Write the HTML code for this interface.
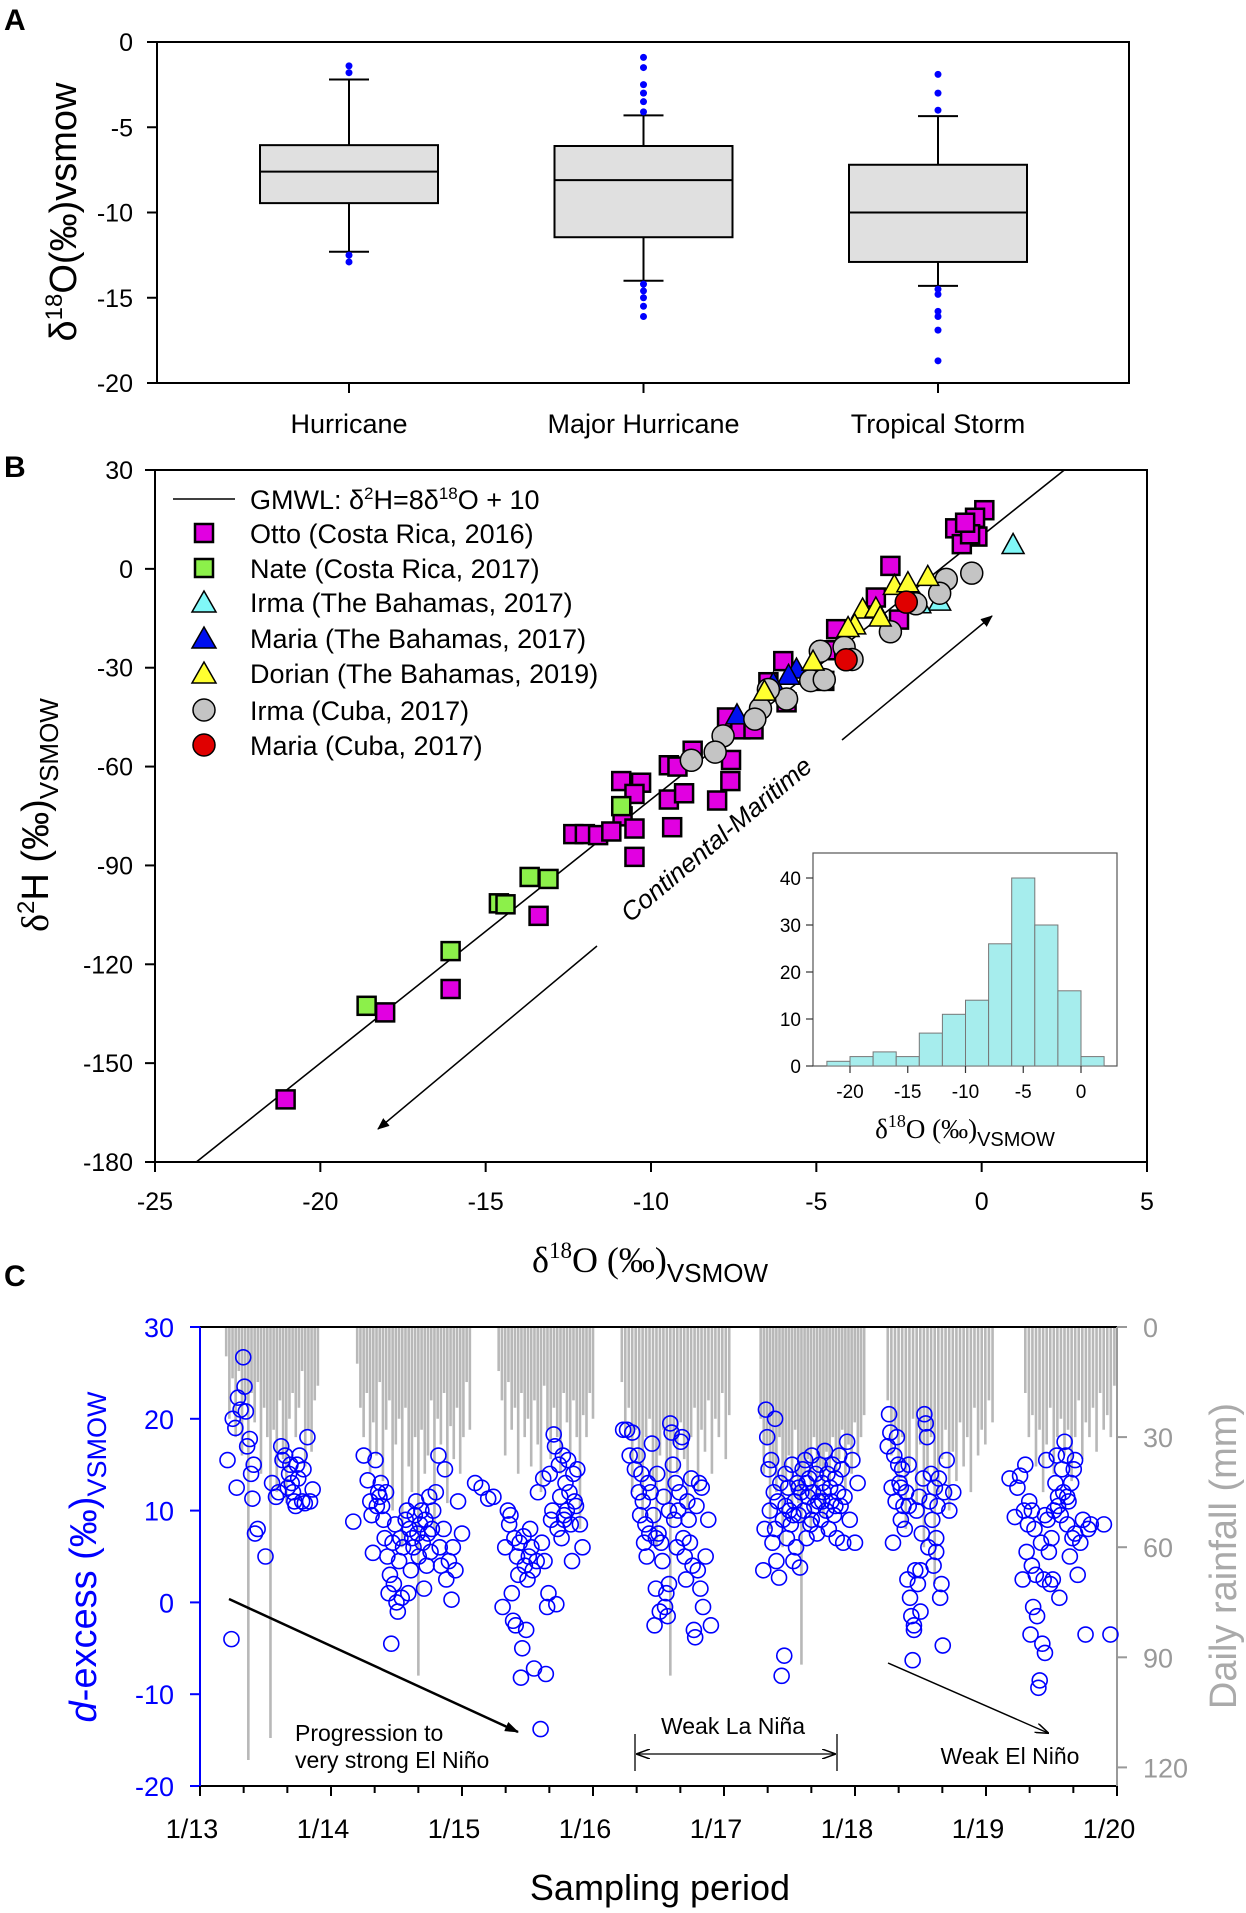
<!DOCTYPE html>
<html><head><meta charset="utf-8"><style>
html,body{margin:0;padding:0;background:#fff}
svg{display:block;font-family:"Liberation Sans",Arial,sans-serif}
</style></head><body>
<svg id="fig" width="1246" height="1913" viewBox="0 0 1246 1913" xmlns="http://www.w3.org/2000/svg">
<text x="4" y="30" font-size="30" font-weight="bold">A</text>
<text x="4" y="477" font-size="30" font-weight="bold">B</text>
<text x="4" y="1286" font-size="30" font-weight="bold">C</text>
<g id="pa"></g>
<g id="pb"></g>
<g id="pc"></g>
</svg>
<script>
// ---------- Panel A data ----------
const aCats = ["Hurricane","Major Hurricane","Tropical Storm"];
const aQ1 = [-9.45,-11.45,-12.9];
const aMed = [-7.6,-8.1,-10.0];
const aQ3 = [-6.05,-6.1,-7.2];
const aWlo = [-12.3,-14.0,-14.3];
const aWhi = [-2.2,-4.3,-4.35];
const aOutH = [-1.4,-1.8,-12.5,-12.9];
const aOutM = [-0.9,-1.5,-2.5,-3.0,-3.5,-4.1,-14.2,-14.6,-15.0,-15.5,-16.1];
const aOutT = [-1.9,-3.0,-4.0,-14.5,-14.8,-15.8,-16.1,-16.9,-18.7];
const aYTicks = [0,-5,-10,-15,-20];

// ---------- Panel B data ----------
const bOttoX = [0.08,-0.8,-0.2,-0.13,-0.6,-2.76,-3.2,-2.5,-4.4,-4.7,-6.0,-6.45,-4.76,-5.9,-7.7,-7.3,-6.9,-8.74,-9.46,-7.58,-9.2,-10.9,-10.3,-10.5,-7.6,-9.46,-9.0,-8.0,-10.86,-10.5,-9.36,-12.35,-12.0,-11.6,-11.2,-10.5,-13.4,-16.06,-18.04,-21.05,-0.35,-0.5];
const bOttoY = [17.8,12.3,15.5,9.8,7.5,0.9,-8.7,-15.4,-18.3,-24.7,-28,-34.4,-34,-40.5,-45.1,-48.7,-48.7,-55.2,-59.6,-58,-60,-64.4,-64.9,-68.3,-64.4,-70,-68.1,-70.3,-75.1,-78.8,-78.4,-80.5,-80.5,-80.8,-79.7,-87.4,-105.3,-127.5,-134.6,-161,10.5,14];
const bNateX = [-10.9,-13.67,-13.1,-14.6,-14.4,-16.06,-18.6];
const bNateY = [-72,-93.5,-94.1,-101.5,-101.8,-116,-132.6];
const bIrmaBX = [0.95,-1.27,-1.87];
const bIrmaBY = [7.4,-9.8,-10.6];
const bMariaBX = [-7.4,-5.6,-5.84,-6.3];
const bMariaBY = [-44.3,-30.4,-32.3,-34.7];
const bDorianX = [-2.64,-2.23,-1.63,-3.6,-3.2,-3.84,-4.04,-5.1,-3.07,-6.57];
const bDorianY = [-5,-4.2,-2.3,-12.2,-11.9,-17,-17.8,-28,-14.6,-37.1];
const bIrmaCX = [-0.3,-1.07,-1.27,-1.99,-2.76,-4.16,-4.88,-3.92,-5.17,-4.76,-5.9,-6.45,-6.69,-6.86,-7.82,-8.06,-8.78];
const bIrmaCY = [-1.3,-3.2,-7.4,-10.6,-19.1,-23.8,-25,-27.5,-33.9,-33.6,-39.5,-36.6,-42.4,-45.6,-50.7,-55.6,-58.1];
const bMariaCX = [-2.28,-4.1];
const bMariaCY = [-10.1,-27.6];
const bXTicks = [-25,-20,-15,-10,-5,0,5];
const bYTicks = [30,0,-30,-60,-90,-120,-150,-180];
const hStarts = [-22,-20,-18,-16,-14,-12,-10,-8,-6,-4,-2,0];
const hCounts = [1,2,3,2,7,11,14,26,40,30,16,2];
const hXTicks = [-20,-15,-10,-5,0];
const hYTicks = [0,10,20,30,40];

// ---------- Panel C data (t = years since Jan 2013) ----------
const cT = [0.21,0.24,0.25,0.27,0.28,0.29,0.31,0.33,0.34,0.35,0.36,0.38,0.39,0.4,0.41,0.42,0.44,0.5,0.55,0.58,0.6,0.62,0.63,0.65,0.67,0.68,0.7,0.71,0.72,0.74,0.75,0.76,0.78,0.79,0.8,0.82,0.84,0.86,0.73,0.69,
1.17,1.25,1.28,1.3,1.31,1.32,1.34,1.36,1.37,1.38,1.39,1.4,1.41,1.42,1.43,1.44,1.45,1.46,1.47,1.48,1.5,1.51,1.52,1.54,1.55,1.57,1.58,1.59,1.6,1.62,1.63,1.64,1.65,1.66,1.67,1.68,1.69,1.7,1.71,1.72,1.73,1.74,1.75,1.76,1.77,1.78,1.8,1.82,1.83,1.84,1.86,1.87,1.88,1.9,1.92,1.93,1.95,1.97,2.0,1.61,1.53,1.49,1.35,
2.1,2.15,2.2,2.24,
2.31,2.33,2.35,2.36,2.37,2.38,2.39,2.4,2.41,2.42,2.43,2.44,2.45,2.46,2.47,2.48,2.49,2.5,2.51,2.52,2.53,2.54,2.55,2.57,2.58,2.6,2.61,2.62,2.63,2.64,2.65,2.66,2.67,2.68,2.69,2.7,2.71,2.72,2.73,2.74,2.75,2.76,2.77,2.78,2.79,2.8,2.81,2.82,2.83,2.84,2.85,2.86,2.88,2.9,2.92,2.87,2.78,
3.23,3.26,3.28,3.3,3.32,3.34,3.35,3.36,3.37,3.38,3.39,3.4,3.41,3.42,3.43,3.44,3.45,3.46,3.47,3.48,3.49,3.5,3.51,3.52,3.53,3.54,3.55,3.56,3.57,3.58,3.59,3.6,3.61,3.62,3.63,3.64,3.65,3.66,3.67,3.68,3.69,3.7,3.71,3.72,3.73,3.74,3.75,3.76,3.77,3.78,3.79,3.8,3.81,3.82,3.83,3.84,3.86,3.88,3.9,3.58,3.48,
4.3,4.31,4.32,4.33,4.34,4.35,4.36,4.37,4.38,4.39,4.4,4.41,4.42,4.43,4.44,4.45,4.46,4.47,4.48,4.49,4.5,4.51,4.52,4.53,4.54,4.55,4.56,4.57,4.58,4.59,4.6,4.61,4.62,4.63,4.64,4.65,4.66,4.67,4.68,4.69,4.7,4.71,4.72,4.73,4.74,4.75,4.76,4.77,4.78,4.79,4.8,4.81,4.82,4.83,4.84,4.85,4.86,4.87,4.88,4.89,4.9,4.91,4.92,4.94,4.96,4.98,5.0,5.02,4.39,4.47,4.57,4.67,4.75,4.85,4.63,4.53,
5.25,5.26,5.27,5.28,5.29,5.3,5.31,5.32,5.33,5.34,5.35,5.36,5.37,5.38,5.39,5.4,5.41,5.42,5.43,5.44,5.45,5.46,5.47,5.48,5.49,5.5,5.51,5.52,5.53,5.54,5.55,5.56,5.57,5.58,5.59,5.6,5.61,5.62,5.63,5.64,5.65,5.66,5.67,5.68,5.7,5.72,5.75,5.45,5.5,5.62,5.35,5.41,
6.18,6.22,6.24,6.26,6.28,6.29,6.3,6.31,6.32,6.33,6.34,6.35,6.36,6.37,6.38,6.39,6.4,6.41,6.42,6.43,6.44,6.45,6.46,6.47,6.48,6.49,6.5,6.51,6.52,6.53,6.54,6.55,6.56,6.57,6.58,6.59,6.6,6.61,6.62,6.63,6.64,6.65,6.66,6.67,6.68,6.7,6.72,6.74,6.76,6.78,6.8,6.35,6.45,6.55,6.62,6.68,6.9,6.95];
const cD = [15.5,-4,20,19,12.5,22.3,21,26.7,23.5,20.8,17,17.8,14,11.3,15,7.5,8,5,13,11.5,12,17,15.5,16,12.5,14,13,12,11,15,13.5,16,11,14.5,10.8,18,11,12.3,10.5,15,
8.8,16,13.3,11,9.5,5.4,15.5,12,11.5,13,10.5,9,7,12,5,1,3,-4.5,6.5,2,0,-1,4.5,0.5,6,9,10,1,8,7,6,9.5,11,7.5,5,8.5,10,6.5,1.5,9,4,7.5,11.5,5.5,8,10,12,16,6,4,8,14.5,2.5,4.5,0.3,6,3.5,11,7.5,3.5,7,8.5,10.5,
13,12.5,11.3,11.5,
-0.5,6,10,8.5,9.5,1,-2,7,-2.5,5,3,6.5,-8.2,-5,7.2,4,-3,2.5,5,8,6,3.5,-7.2,4.5,12,-13.8,6.5,13.5,4.5,-7.8,-0.5,1,14,9,10,18.3,17,-0.2,8,15,11.5,7,16,9,13,10,15.5,12,8.5,4.5,14,11,14.5,8.5,6,10.5,9.5,
18.8,18.8,16,18.5,14.5,16,12,9.5,14,11,6.5,8.5,5,13,7.5,12,17.3,9.5,-2.5,1.5,14,7.5,-1,6.5,4.5,11.5,-0.5,1,-1.5,2,19.5,18.5,15,9,13,6,10,12,17.5,18,7,5,2.5,11,9,6.5,13.5,4,-3,-3.8,10.5,3.5,13,1.5,12.5,-0.5,5,9,-2.5,10,7,
3.5,8,21,18,14.5,10,15.5,6.5,12,20,4.5,11,2.7,13,-8,9,-5.8,14,7,12.5,10,8.5,15,4.5,11,6,13,9.5,3.8,12,14.5,10,15.5,7,11.5,13.5,8.5,16,12,10.5,14,7.5,11,15,9,13,12,16.5,10,14,8,12.5,11,15,9.5,13.5,7,12,16,10.5,14.5,6.5,11.5,17.5,9,15.5,6.5,13,8,10.5,12.5,9,11,10.5,13,9.5,
17,20.5,18.5,12.5,6.5,16,11,18,15,13,9,14.5,10.5,8,12,2.5,15,0.5,-1.5,-6.3,-3,3.5,10,2,11.5,3.5,7.5,13.5,20.5,19.5,18,6,11,14,9,4,12.5,7,10.5,13.5,0.5,2,-4.7,12,15.5,10,12,-2.5,-1,5.5,12.5,10.5,
13.5,9.3,12.5,13.8,2.5,10,15,5.5,8.5,11,-3.5,4,-0.5,8,3,-1.5,-9.3,-8.5,6.5,-4.5,2.5,-5.5,15.5,9,5.5,2,7,2.5,10,13,16,11.5,0.5,9.5,14.5,12,17.5,16,8.5,11,5,13,7,14.5,15.5,3,6.5,9,-3.5,8,8.5,10,9.5,10.5,11.5,7.5,8.5,-3.5];
// rainfall periods: start t, end t, daily values (mm)
const rStart = [0.2,1.2,2.28,3.22,4.28,5.25,6.3];
const rEnd = [0.9,2.06,3.0,4.04,5.07,6.05,6.98];
const rain0 = [8,25,14,30,12,35,20,118,18,26,15,40,22,30,112,28,45,20,36,48,25,18,30,22,12,38,28,34,20,16];
const rain1 = [10,22,30,18,40,26,35,15,42,28,20,50,32,25,60,22,38,45,30,95,28,40,35,20,55,25,32,18,48,27,36,22,40,30,15,28];
const rain2 = [12,20,35,15,28,22,40,18,30,25,38,20,32,45,16,28,36,22,30,40,18,26,34,20,30,55,24,30,18,25];
const rain3 = [15,30,22,45,28,38,52,30,25,42,60,35,28,48,95,32,40,26,36,50,30,22,45,28,34,20,40,25,30,18,36,24];
const rain4 = [25,40,32,55,38,45,30,60,42,35,50,28,48,92,40,36,55,30,46,38,52,34,44,30,40,36,28,45,32,40,26,35,30,24];
const rain5 = [20,35,28,42,30,55,38,25,48,32,60,40,30,70,45,36,28,50,34,42,26,38,30,45,22,35,28,32,20,26];
const rain6 = [18,30,24,38,28,45,32,22,40,30,25,35,28,42,30,20,36,26,30,22,34,18,28,24,30,16];
const cYTicks = [30,20,10,0,-10,-20];
const rTicks = [0,30,60,90,120];
const cXLabels = ["1/13","1/14","1/15","1/16","1/17","1/18","1/19","1/20"];

const NS = "http://www.w3.org/2000/svg";
function mk(tag, attrs, parent){const e=document.createElementNS(NS,tag);for(const k in attrs)e.setAttribute(k,attrs[k]);parent.appendChild(e);return e;}

// ================= Panel A =================
(function(){
const g=document.getElementById('pa');
const L=157,R=1129,T=42,B=383;
const y=v=>T+(0-v)/20*(B-T);
const xc=i=>349+i*294.5;
let e;
e=mk('rect',{x:L,y:T,width:R-L,height:B-T,fill:'none',stroke:'#000','stroke-width':2},g);


aYTicks.forEach(v=>{
 e=mk('line',{x1:L-10,x2:L,y1:y(v),y2:y(v),stroke:'#000','stroke-width':2},g);
 
 
 e=mk('text',{x:133,y:y(v)+9,'font-size':25,'text-anchor':'end'},g);e.textContent=v;
 
 
});
const outs=[aOutH,aOutM,aOutT];
aCats.forEach((c,i)=>{
 const x=xc(i),hw=89;
 e=mk('line',{x1:x,x2:x,y1:y(aWhi[i]),y2:y(aWlo[i]),stroke:'#000','stroke-width':2},g);
 
 
 [aWhi[i],aWlo[i]].forEach(w=>{e=mk('line',{x1:x-20,x2:x+20,y1:y(w),y2:y(w),stroke:'#000','stroke-width':2},g);
 
 });
 e=mk('rect',{x:x-hw,y:y(aQ3[i]),width:2*hw,height:y(aQ1[i])-y(aQ3[i]),fill:'#e0e0e0',stroke:'#000','stroke-width':2},g);
 
 
 e=mk('line',{x1:x-hw,x2:x+hw,y1:y(aMed[i]),y2:y(aMed[i]),stroke:'#000','stroke-width':2},g);
 
 
 outs[i].forEach(o=>{e=mk('circle',{cx:x,cy:y(o),r:3.5,fill:'#0000ff'},g);
 
 });
 e=mk('line',{x1:x,x2:x,y1:B,y2:B+10,stroke:'#000','stroke-width':2},g);
 
 
 e=mk('text',{x:x,y:433,'font-size':27,'text-anchor':'middle'},g);e.textContent=c;
 
 
});
e=mk('text',{transform:'translate(76,212) rotate(-90)','font-size':38,'text-anchor':'middle'},g);
e.innerHTML='δ<tspan dy="-14" font-size="24">18</tspan><tspan dy="14">O(‰)vsmow</tspan>';


})();

// ================= Panel B =================
(function(){
const g=document.getElementById('pb');
const L=155,R=1147,T=470,B=1162;
const x=v=>L+(v+25)/30*(R-L);
const y=v=>T+(30-v)/210*(B-T);
let e;
e=mk('rect',{x:L,y:T,width:R-L,height:B-T,fill:'none',stroke:'#000','stroke-width':2},g);


bXTicks.forEach(v=>{
 e=mk('line',{x1:x(v),x2:x(v),y1:B,y2:B+10,stroke:'#000','stroke-width':2},g);
 
 
 e=mk('text',{x:x(v),y:1210,'font-size':25,'text-anchor':'middle'},g);e.textContent=v;
 
 
});
bYTicks.forEach(v=>{
 e=mk('line',{x1:L-10,x2:L,y1:y(v),y2:y(v),stroke:'#000','stroke-width':2},g);
 
 
 e=mk('text',{x:133,y:y(v)+9,'font-size':25,'text-anchor':'end'},g);e.textContent=v;
 
 
});
// GMWL
const gx0=-23.75,gx1=2.5;
e=mk('line',{x1:x(gx0),y1:y(8*gx0+10),x2:x(gx1),y2:y(8*gx1+10),stroke:'#000','stroke-width':1.6},g);


// arrow
const defs=mk('defs',{},g);
const m=mk('marker',{id:'ah',markerWidth:12,markerHeight:10,refX:11,refY:5,orient:'auto',markerUnits:'userSpaceOnUse'},defs);
mk('path',{d:'M0,0 L12,5 L0,10 Z',fill:'#000'},m);
e=mk('line',{x1:597,y1:946,x2:378,y2:1129,stroke:'#000','stroke-width':1.5,'marker-end':'url(#ah)'},g);


e=mk('line',{x1:842,y1:740,x2:992,y2:616,stroke:'#000','stroke-width':1.5,'marker-end':'url(#ah)'},g);


e=mk('text',{transform:'translate(722,846) rotate(-40)','font-size':26,'font-style':'italic','text-anchor':'middle'},g);
e.textContent='Continental-Maritime';


const sq=(X,Y,fill,name)=>{e=mk('rect',{x:x(X)-9,y:y(Y)-9,width:18,height:18,fill:fill,stroke:'#000','stroke-width':2.5},g);
 
 };
const tri=(X,Y,fill,name)=>{const cx=x(X),cy=y(Y);e=mk('path',{d:`M${cx-11},${cy+9} L${cx+11},${cy+9} L${cx},${cy-11} Z`,fill:fill,stroke:'#000','stroke-width':1.5},g);
 
 };
const cir=(X,Y,fill,name)=>{e=mk('circle',{cx:x(X),cy:y(Y),r:11,fill:fill,stroke:'#000','stroke-width':1.5},g);
 
 };
bOttoX.forEach((v,i)=>sq(v,bOttoY[i],'#e100e1','otto-point'));
bNateX.forEach((v,i)=>sq(v,bNateY[i],'#8cf04a','nate-point'));
bIrmaBX.forEach((v,i)=>tri(v,bIrmaBY[i],'#80f8f8','irma-bahamas-point'));
bMariaBX.forEach((v,i)=>tri(v,bMariaBY[i],'#0010f0','maria-bahamas-point'));
bIrmaCX.forEach((v,i)=>cir(v,bIrmaCY[i],'#c4c4c4','irma-cuba-point'));
bDorianX.forEach((v,i)=>tri(v,bDorianY[i],'#ffff30','dorian-point'));
bMariaCX.forEach((v,i)=>cir(v,bMariaCY[i],'#e00000','maria-cuba-point'));
// legend
const lg=mk('g',{},g);


const ly=[499,533,568,602,638,673,710,745];
e=mk('line',{x1:173,x2:235,y1:ly[0],y2:ly[0],stroke:'#000','stroke-width':1.6},lg);


e=mk('text',{x:250,y:ly[0]+10,'font-size':27},lg);
e.innerHTML='GMWL: δ<tspan dy="-10" font-size="17">2</tspan><tspan dy="10">H=8δ</tspan><tspan dy="-10" font-size="17">18</tspan><tspan dy="10">O + 10</tspan>';


const labs=['Otto (Costa Rica, 2016)','Nate (Costa Rica, 2017)','Irma (The Bahamas, 2017)','Maria (The Bahamas, 2017)','Dorian (The Bahamas, 2019)','Irma (Cuba, 2017)','Maria (Cuba, 2017)'];
const fills=['#e100e1','#8cf04a','#80f8f8','#0010f0','#ffff30','#c4c4c4','#e00000'];
labs.forEach((t,i)=>{const yy=ly[i+1],cx=204;
 if(i<2){e=mk('rect',{x:cx-9,y:yy-9,width:18,height:18,fill:fills[i],stroke:'#000','stroke-width':2.5},lg);}
 else if(i<5){e=mk('path',{d:`M${cx-12},${yy+10} L${cx+12},${yy+10} L${cx},${yy-11} Z`,fill:fills[i],stroke:'#000','stroke-width':1.5},lg);}
 else {e=mk('circle',{cx:cx,cy:yy,r:11,fill:fills[i],stroke:'#000','stroke-width':1.5},lg);}
 
 
 e=mk('text',{x:250,y:yy+10,'font-size':27},lg);e.textContent=t;
 
 
});
// axis titles
e=mk('text',{x:650,y:1272,'font-size':36,'text-anchor':'middle','font-family':'Liberation Serif, serif'},g);
e.innerHTML='δ<tspan dy="-14" font-size="23">18</tspan><tspan dy="14">O (‰)</tspan><tspan dy="10" font-size="26" font-family="Liberation Sans, sans-serif">VSMOW</tspan>';


e=mk('text',{transform:'translate(48,815) rotate(-90)','font-size':38,'text-anchor':'middle'},g);
e.innerHTML='<tspan font-family="Liberation Serif, serif">δ</tspan><tspan dy="-14" font-size="24">2</tspan><tspan dy="14">H (‰)</tspan><tspan dy="10" font-size="26">VSMOW</tspan>';


// inset histogram
const ig=mk('g',{},g);


const iL=813,iR=1117,iT=853,iB=1066;
const hx=v=>850+(v+20)*11.55;
const hy=v=>iB-v*4.7;
e=mk('rect',{x:iL,y:iT,width:iR-iL,height:iB-iT,fill:'#fff',stroke:'#555','stroke-width':1.2},ig);


hStarts.forEach((s,i)=>{e=mk('rect',{x:hx(s),y:hy(hCounts[i]),width:hx(s+2)-hx(s),height:hCounts[i]*4.7,fill:'#a6eded',stroke:'#777','stroke-width':1},ig);
 
 });
hXTicks.forEach(v=>{e=mk('line',{x1:hx(v),x2:hx(v),y1:iB,y2:iB+7,stroke:'#333','stroke-width':1.2},ig);
 
 
 e=mk('text',{x:hx(v),y:iB+32,'font-size':19,'text-anchor':'middle'},ig);e.textContent=v;
 
 });
hYTicks.forEach(v=>{e=mk('line',{x1:iL-7,x2:iL,y1:hy(v),y2:hy(v),stroke:'#333','stroke-width':1.2},ig);
 
 
 e=mk('text',{x:iL-12,y:hy(v)+7,'font-size':19,'text-anchor':'end'},ig);e.textContent=v;
 
 });
e=mk('text',{x:965,y:1138,'font-size':27,'text-anchor':'middle','font-family':'Liberation Serif, serif'},ig);
e.innerHTML='δ<tspan dy="-11" font-size="18">18</tspan><tspan dy="11">O (‰)</tspan><tspan dy="8" font-size="20" font-family="Liberation Sans, sans-serif">VSMOW</tspan>';


})();

// ================= Panel C =================
(function(){
const g=document.getElementById('pc');
const L=200,R=1117,T=1327,B=1786;
const x=t=>L+t*131;
const y=v=>T+(30-v)/50*(B-T);
const ry=mm=>T+mm*3.67;
let e;
// rain bars
const rains=[rain0,rain1,rain2,rain3,rain4,rain5,rain6];
rains.forEach((arr,p)=>{arr.forEach((mm,i)=>{const t=rStart[p]+(rEnd[p]-rStart[p])*i/(arr.length-1);
 e=mk('line',{x1:x(t),x2:x(t),y1:T,y2:ry(mm),stroke:'#b8b8b8','stroke-width':2.6},g);
 
 });});
// axes
e=mk('line',{x1:L,x2:R,y1:T,y2:T,stroke:'#000','stroke-width':2},g);


e=mk('line',{x1:L,x2:R,y1:B,y2:B,stroke:'#000','stroke-width':2},g);


e=mk('line',{x1:L,x2:L,y1:T,y2:B,stroke:'#0000ff','stroke-width':2},g);


e=mk('line',{x1:R,x2:R,y1:T,y2:B,stroke:'#999','stroke-width':2},g);


cYTicks.forEach(v=>{e=mk('line',{x1:L-10,x2:L,y1:y(v),y2:y(v),stroke:'#0000ff','stroke-width':2},g);
 
 
 e=mk('text',{x:174,y:y(v)+10,'font-size':27,'text-anchor':'end',fill:'#0000ff'},g);e.textContent=v;
 
 });
rTicks.forEach(v=>{e=mk('line',{x1:R,x2:R+10,y1:ry(v),y2:ry(v),stroke:'#999','stroke-width':2},g);
 
 
 e=mk('text',{x:1143,y:ry(v)+10,'font-size':27,fill:'#999'},g);e.textContent=v;
 
 });
for(let k=0;k<=21;k++){const t=k/3;e=mk('line',{x1:x(t),x2:x(t),y1:B,y2:B+(k%3===0?10:7),stroke:'#000','stroke-width':2},g);
 
 }
cXLabels.forEach((s,i)=>{e=mk('text',{x:x(i)-8,y:1838,'font-size':27,'text-anchor':'middle'},g);e.textContent=s;
 
 });
// points
cT.forEach((t,i)=>{e=mk('circle',{cx:x(t),cy:y(cD[i]),r:7.5,fill:'none',stroke:'#0000ff','stroke-width':1.6},g);
 
 });
// annotations
const defs=mk('defs',{},g);
const m=mk('marker',{id:'ah2',markerWidth:14,markerHeight:10,refX:13,refY:5,orient:'auto',markerUnits:'userSpaceOnUse'},defs);
mk('path',{d:'M0,0 L14,5 L0,10',fill:'none',stroke:'#000','stroke-width':1.5},m);
const m2=mk('marker',{id:'ah3',markerWidth:14,markerHeight:10,refX:1,refY:5,orient:'auto',markerUnits:'userSpaceOnUse'},defs);
mk('path',{d:'M14,0 L0,5 L14,10',fill:'none',stroke:'#000','stroke-width':1.5},m2);
const m3=mk('marker',{id:'ah4',markerWidth:14,markerHeight:10,refX:13,refY:5,orient:'auto',markerUnits:'userSpaceOnUse'},defs);
mk('path',{d:'M0,0 L14,5 L0,10 Z',fill:'#000'},m3);
e=mk('line',{x1:229,y1:1599,x2:518,y2:1732,stroke:'#000','stroke-width':2.5,'marker-end':'url(#ah4)'},g);


e=mk('text',{x:295,y:1741,'font-size':23},g);e.textContent='Progression to';


e=mk('text',{x:295,y:1768,'font-size':23},g);e.textContent='very strong El Niño';


e=mk('line',{x1:637,y1:1754,x2:835,y2:1754,stroke:'#000','stroke-width':1.3,'marker-end':'url(#ah2)','marker-start':'url(#ah3)'},g);


[635,837].forEach(xx=>{e=mk('line',{x1:xx,x2:xx,y1:1734,y2:1771,stroke:'#000','stroke-width':1.3},g);
 
 });
e=mk('text',{x:733,y:1734,'font-size':23,'text-anchor':'middle'},g);e.textContent='Weak La Niña';


e=mk('line',{x1:888,y1:1663,x2:1048,y2:1733,stroke:'#000','stroke-width':1.4,'marker-end':'url(#ah2)'},g);


e=mk('text',{x:1010,y:1764,'font-size':23,'text-anchor':'middle'},g);e.textContent='Weak El Niño';


// titles
e=mk('text',{x:660,y:1900,'font-size':36,'text-anchor':'middle'},g);e.textContent='Sampling period';


e=mk('text',{transform:'translate(96,1557) rotate(-90)','font-size':38,'text-anchor':'middle',fill:'#0000ff'},g);
e.innerHTML='<tspan font-style="italic">d</tspan>-excess (‰)<tspan dy="10" font-size="27">VSMOW</tspan>';


e=mk('text',{transform:'translate(1236,1556) rotate(-90)','font-size':38,'text-anchor':'middle',fill:'#aaa'},g);
e.textContent='Daily rainfall (mm)';


})();
</script>
</body></html>
